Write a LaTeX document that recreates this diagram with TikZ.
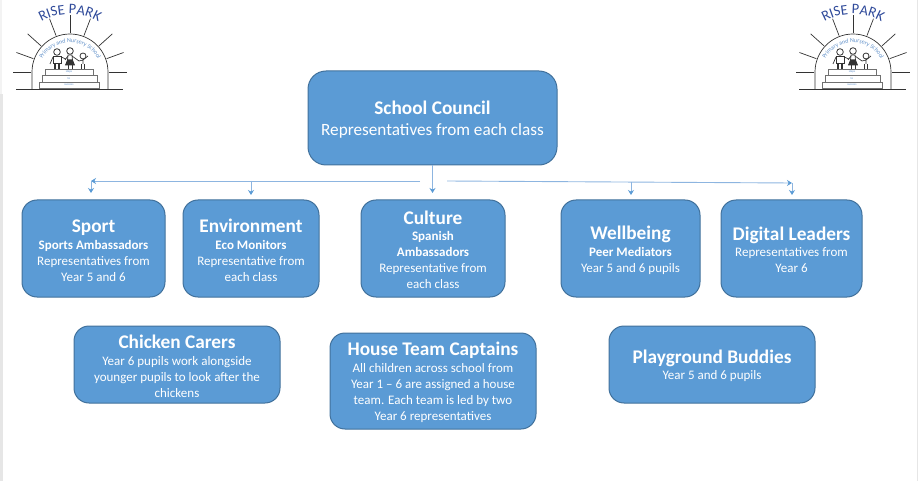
\documentclass[tikz,border=0pt]{standalone}
\usepackage{fontspec}
\setmainfont{Carlito}
\usetikzlibrary{positioning, arrows.meta, decorations.text}

\definecolor{boxfill}{HTML}{5B9BD5}
\definecolor{boxline}{HTML}{41719C}
\definecolor{linkline}{HTML}{8DB5E0}
\definecolor{logoblue}{HTML}{2F4A9A}
\definecolor{logotext}{HTML}{5F8FC8}
\definecolor{logoline}{HTML}{333333}
\definecolor{edgegray}{HTML}{E6E6E6}

\newcommand{\head}[1]{{\fontsize{19.3}{23}\selectfont\bfseries\rule{0pt}{17pt}#1}}

\begin{document}
\begin{tikzpicture}[x=1pt, y=-1pt]
\tikzset{
  block/.style={
    rectangle, draw=boxline, line width=1pt, rounded corners=15pt, align=center,
    fill=boxfill, text=white, inner sep=0pt, outer sep=0pt,
    font=\fontsize{13}{16}\selectfont
  },
  toprow/.style={block, minimum height=97pt},
  lowrow/.style={block, minimum width=206pt, minimum height=77pt},
  arrow/.style={draw=linkline, line width=0.9pt, -{Stealth[length=5pt, width=6pt, color=boxfill]}},
  logoray/.style={draw=logoline, line width=0.7pt},
  step row/.style={draw=logoline!70, line width=0.6pt, fill=white},
  pics/risepark/.style={code={
    \begin{scope}[y=1pt]
    \foreach \a in {90, 69, 42, 20, 0, 111, 138, 160, 180}
      \draw [logoray] (\a:39) -- (\a:57);
    \draw [logoray] (-38,-17) -- (-38,0) arc[start angle=180, end angle=0, radius=38] -- (38,-17);
    \draw [logoray] (-54,-17) -- (53,-17);
    \draw [step row] (-31,-16) rectangle (29,-10);
    \draw [step row] (-28,-10) rectangle (27,-3);
    \draw [step row] (-25,-3) rectangle (23,3);
    \node at (-1,0) [text=logotext, font=\fontsize{3}{3}\selectfont] {steps};
    \node at (-1,-7) [text=logotext, font=\fontsize{3}{3}\selectfont] {to};
    \node at (-1,-13) [text=logotext, font=\fontsize{3}{3}\selectfont] {success};
    % children on the steps
    \draw [logoray, line width=0.8pt] (-13,20) circle (3.3);
    \draw [logoray, fill=white] (-17,15.5) rectangle (-9,9);
    \draw [logoray, line width=1.2pt] (-15,9) -- (-15,3) (-11,9) -- (-11,3);
    \draw [logoray] (-17,15) -- (-20,8) (-9,15) -- (-4,13);
    \draw [logoray, line width=0.8pt] (0,21) circle (3.3);
    \draw [logoray, fill=white] (-2,17) -- (2,17) -- (2.5,12) -- (-2.5,12) -- cycle;
    \draw [logoray, fill=logoline] (-2.5,12) -- (2.5,12) -- (4.5,7) -- (-4.5,7) -- cycle;
    \draw [logoray, line width=1pt] (-2,7) -- (-2,3) (2,7) -- (2,3);
    \draw [logoray] (2,16) -- (9,11) (-2,16) -- (-5,12);
    \draw [logoray, line width=0.8pt] (13,16) circle (3);
    \draw [logoray] (13,13) -- (13,8) (13,12) -- (9,11) (13,12) -- (18,16);
    \draw [logoray, line width=1pt] (11.5,8) -- (11.5,3) (14.5,8) -- (14.5,3);
    \path [decorate, decoration={text along path, text align=center,
      text={|\fontsize{14.5}{15}\selectfont\color{logoblue}|RISE PARK}}]
      (150:58) arc[start angle=150, end angle=30, radius=58];
    \path [decorate, decoration={text along path, text align=center,
      text={|\fontsize{6}{7}\selectfont\color{logotext}|Primary and Nursery School}}]
      (-31.5,-2) arc[start angle=180, end angle=0, radius=31.5];
    \end{scope}
  }}
}
\useasboundingbox (0,0) rectangle (918,481);
\fill [edgegray] (0,94) rectangle (3,481);
\fill [edgegray!50] (0,0) rectangle (2,94);
\fill [edgegray] (917,0) rectangle (918,481);

\pic at (70,72) {risepark};
\pic at (853,72) {risepark};

\node (council) [block, rounded corners=18pt, minimum width=249pt, minimum height=94pt, font=\fontsize{17.2}{21}\selectfont] at (432.5,118)
  {\head{School Council}\\ Representatives from each class};

% top row, left to right
\node (sport) [toprow, minimum width=143pt] at (93.5,248.5)
  {\head{Sport}\\[1pt] \textbf{Sports Ambassadors}\\ Representatives from\\ Year 5 and 6};
\node (environment) [toprow, minimum width=136pt, right=18pt of sport]
  {\head{Environment}\\[1pt] \textbf{Eco Monitors}\\ Representative from\\ each class};
\node (culture) [toprow, minimum width=144pt, right=42pt of environment]
  {\head{Culture}\\ \textbf{Spanish}\\ \textbf{Ambassadors}\\ Representative from\\ each class};
\node (wellbeing) [toprow, minimum width=139pt, right=56pt of culture]
  {\head{Wellbeing}\\[1pt] \textbf{Peer Mediators}\\ Year 5 and 6 pupils};
\node (digital) [toprow, minimum width=141pt, right=21pt of wellbeing]
  {\head{Digital Leaders}\\ Representatives from\\ Year 6};

% bottom row
\node (chicken) [lowrow] at (177,364.5)
  {\head{Chicken Carers}\\[1pt] Year 6 pupils work alongside\\ younger pupils to look after the\\ chickens};
\node (house) [lowrow, minimum height=96pt] at (433,381)
  {\head{House Team Captains}\\[1pt] All children across school from\\ Year 1 -- 6 are assigned a house\\ team. Each team is led by two\\ Year 6 representatives};
\node (playground) [lowrow] at (712,364.5)
  {\head{Playground Buddies}\\ Year 5 and 6 pupils};

% free ends of the connectors
\coordinate (leftstart) at (420,181);
\coordinate (leftend) at (91,181);
\coordinate (rightstart) at (447,181);
\coordinate (rightend) at (792,183);
\coordinate (sporttip) at (91,193);
\coordinate (envstart) at (251,181);
\coordinate (envtip) at (251,195);
\coordinate (welstart) at (631,182);
\coordinate (weltip) at (631,195);
\coordinate (digtip) at (792,195);
\coordinate (culturetip) at (432.5,193);

\draw [arrow] (council.south) -- (culturetip);
\draw [arrow] (leftstart) -- (leftend);
\draw [arrow] (leftend) -- (sporttip);
\draw [arrow] (envstart) -- (envtip);
\draw [arrow] (rightstart) -- (rightend);
\draw [arrow] (welstart) -- (weltip);
\draw [arrow] (rightend) -- (digtip);
\end{tikzpicture}
\end{document}
